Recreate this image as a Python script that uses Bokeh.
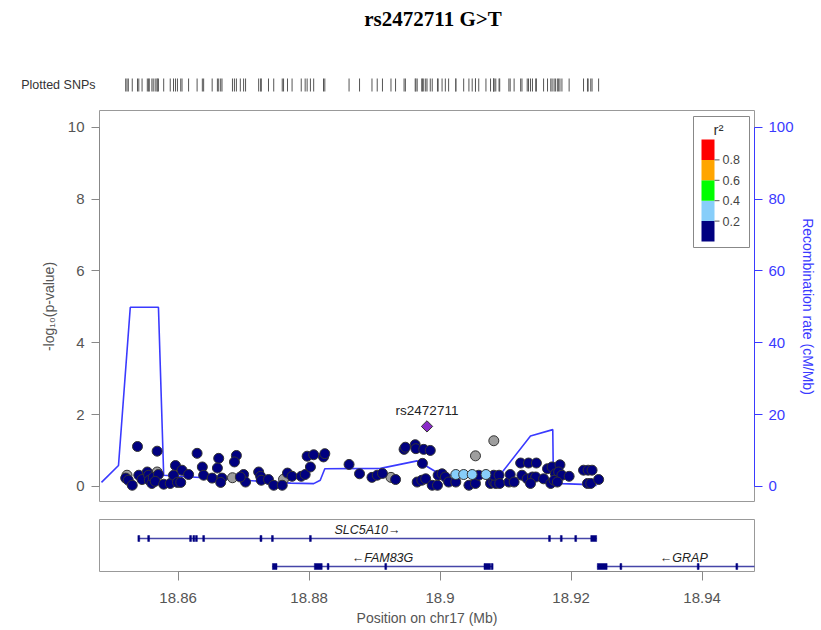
import math
from bokeh.plotting import figure
from bokeh.models import Range1d, LinearAxis, FixedTicker
from bokeh.layouts import column
from bokeh.embed import file_html
from bokeh.resources import INLINE
from bokeh.core.properties import value

# ---------------- data ----------------
TITLE = "rs2472711 G>T"
X_START, X_END = 18.848, 18.948
Y_START, Y_END = -0.45, 10.47

ref_name = "rs2472711"
ref_pos = 18.8980
ref_logp = 1.67

navy_pos = [18.8520, 18.8524, 18.8530, 18.8538, 18.8540, 18.8545, 18.8553, 18.8555, 18.8556, 18.8560,
            18.8562, 18.8570, 18.8565, 18.8568, 18.8578, 18.8588, 18.8596, 18.8593, 18.8599, 18.8604,
            18.8606, 18.8616, 18.8629, 18.8637, 18.8639, 18.8652, 18.8662, 18.8660, 18.8667, 18.8665,
            18.8689, 18.8686, 18.8700, 18.8703, 18.8695, 18.8723, 18.8726, 18.8727, 18.8738, 18.8746,
            18.8759, 18.8767, 18.8774, 18.8788, 18.8794, 18.8802, 18.8797, 18.8807, 18.8822, 18.8824,
            18.8861, 18.8877, 18.8896, 18.8904, 18.8912, 18.8932, 18.8945, 18.8947, 18.8962, 18.8963,
            18.8975, 18.8985, 18.8973, 18.8965, 18.8972, 18.8978, 18.8988, 18.8996, 18.8997, 18.9003,
            18.9008, 18.9013, 18.9024, 18.9044, 18.9054, 18.9059, 18.9077, 18.9082, 18.9085, 18.9082,
            18.9090, 18.9091, 18.9105, 18.9107, 18.9113, 18.9123, 18.9135, 18.9147, 18.9125, 18.9133,
            18.9141, 18.9146, 18.9138, 18.9158, 18.9164, 18.9171, 18.9183, 18.9176, 18.9181, 18.9186,
            18.9169, 18.9174, 18.9179, 18.9197, 18.9219, 18.9226, 18.9232, 18.9225, 18.9230, 18.9242]
navy_logp = [0.23, 0.17, 0.03, 1.11, 0.31, 0.19, 0.40, 0.31, 0.17, 0.08,
             0.25, 0.33, 0.14, 0.98, 0.06, 0.08, 0.58, 0.31, 0.11, 0.11,
             0.45, 0.33, 0.92, 0.54, 0.31, 0.23, 0.78, 0.51, 0.23, 0.11,
             0.86, 0.68, 0.33, 0.12, 0.26, 0.40, 0.28, 0.17, 0.19, 0.03,
             0.03, 0.37, 0.28, 0.28, 0.33, 0.54, 0.84, 0.88, 0.82, 0.91,
             0.61, 0.35, 0.25, 0.31, 0.36, 0.19, 1.03, 1.09, 1.16, 1.05,
             1.03, 1.00, 0.64, 0.12, 0.17, 0.21, 0.03, 0.03, 0.31, 0.35,
             0.26, 0.12, 0.12, 0.03, 0.08, 0.31, 0.08, 0.12, 0.08, 0.31,
             0.31, 0.08, 0.12, 0.33, 0.12, 0.65, 0.65, 0.65, 0.31, 0.21,
             0.26, 0.26, 0.08, 0.21, 0.49, 0.54, 0.60, 0.35, 0.40, 0.31,
             0.08, 0.17, 0.12, 0.28, 0.45, 0.45, 0.45, 0.08, 0.08, 0.19]

lblue_pos = [18.9024, 18.9036, 18.9049, 18.9070]
lblue_logp = [0.33, 0.33, 0.33, 0.33]

gray_pos = [18.8522, 18.8568, 18.8683, 18.8761, 18.8925, 18.9054, 18.9082]
gray_logp = [0.31, 0.40, 0.24, 0.20, 0.25, 0.85, 1.27]

recomb_pos = [18.8483, 18.8509, 18.8527, 18.8570, 18.8578, 18.8772, 18.8807, 18.8817, 18.8824,
              18.8909, 18.8965, 18.8973, 18.8996, 18.9008, 18.9095, 18.9138, 18.9172, 18.9173,
              18.9186, 18.9217, 18.9239]
recomb_rate = [1.1, 5.8, 49.9, 49.9, 3.1, 0.9, 0.75, 1.7, 4.9,
               5.0, 7.1, 6.3, 3.8, 3.1, 4.0, 14.0, 15.8, 1.25,
               0.75, 0.56, 0.28]

gene_names = ["SLC5A10", "FAM83G", "GRAP"]
gene_strand = ["+", "-", "-"]
gene_start = [18.8539, 18.8744, 18.9240]
gene_end = [18.9239, 18.9080, 18.9504]
gene_row = [0, 1, 1]
exon_gene = [0] * 13 + [1] * 6 + [2] * 4
exon_start = [18.8539, 18.8554, 18.8618, 18.8623, 18.8627, 18.8638, 18.8725, 18.8743, 18.8801,
              18.9166, 18.9184, 18.9206, 18.9230,
              18.8744, 18.8808, 18.8828, 18.8916, 18.9067, 18.9079,
              18.9240, 18.9275, 18.9393, 18.9452]
exon_end = [18.8541, 18.8556, 18.8620, 18.8625, 18.8629, 18.8640, 18.8728, 18.8745, 18.8803,
            18.9168, 18.9186, 18.9208, 18.9239,
            18.8751, 18.8820, 18.8830, 18.8918, 18.9077, 18.9080,
            18.9255, 18.9277, 18.9395, 18.9454]

y_ticks = [0, 2, 4, 6, 8, 10]
recomb_ticks = [0, 20, 40, 60, 80, 100]
x_ticks = [18.86, 18.88, 18.90, 18.92, 18.94]
x_tick_labels = ["18.86", "18.88", "18.9", "18.92", "18.94"]
r2_bins = [0.0, 0.2, 0.4, 0.6, 0.8, 1.0]
r2_ticks = [0.2, 0.4, 0.6, 0.8]
r2_tick_labels = ["0.2", "0.4", "0.6", "0.8"]
r2_colors = ["#000080", "#87CEFA", "#00FF00", "#FFA500", "#FF0000"]

# ---------------- styling ----------------
FONT = "Liberation Sans"
W = 821
LEFT, RIGHT = 99, 67
FRAME_W = W - LEFT - RIGHT
MAIN_TOP, MAIN_H = 10, 392
RECOMB_COL = "#3A3AFF"
AXIS_COL = "#888888"
LABEL_COL = "#555555"

x_range = Range1d(X_START, X_END)
all_pos = navy_pos + lblue_pos + gray_pos + [ref_pos]


def fx(px):
    """frame pixel offset (from frame left) -> x data"""
    return X_START + px / FRAME_W * (X_END - X_START)


def fy(py):
    """frame pixel offset (from frame top) -> y data of main panel"""
    return Y_END - py / MAIN_H * (Y_END - Y_START)


# ---- top: title + rug ----
p1 = figure(width=W, height=100, x_range=x_range, y_range=Range1d(100, 0),
            x_axis_location=None, y_axis_location="left",
            output_backend="svg", toolbar_location=None,
            min_border_left=LEFT, min_border_right=RIGHT,
            min_border_top=0, min_border_bottom=0)
p1.grid.visible = False
p1.outline_line_color = None
p1.yaxis.ticker = FixedTicker(ticks=[84.5])
p1.yaxis.major_label_overrides = {84.5: "Plotted SNPs"}
p1.yaxis.axis_line_color = None
p1.yaxis.major_tick_line_color = None
p1.yaxis.major_tick_out = 0
p1.yaxis.major_tick_in = 0
p1.yaxis.minor_tick_line_color = None
p1.yaxis.major_label_standoff = 4
p1.yaxis.major_label_text_font = FONT
p1.yaxis.major_label_text_font_size = "12.5px"
p1.yaxis.major_label_text_color = "#333333"
p1.segment(x0=all_pos, y0=78, x1=all_pos, y1=91, line_color="#555555", line_width=1)
p1.text(x=[(X_START + X_END) / 2], y=[18], text=[TITLE], x_offset=6,
        text_font=value("Liberation Serif"), text_font_style="bold",
        text_font_size="21px", text_align="center", text_baseline="middle",
        text_color="black")

# ---- main association panel ----
p2 = figure(width=W, height=MAIN_TOP + MAIN_H, x_range=x_range,
            y_range=Range1d(Y_START, Y_END),
            x_axis_location=None, y_axis_location="left",
            output_backend="svg", toolbar_location=None,
            min_border_left=LEFT, min_border_right=RIGHT,
            min_border_top=MAIN_TOP, min_border_bottom=0)
p2.grid.visible = False
p2.outline_line_color = "#999999"
p2.extra_y_ranges = {"recomb": Range1d(Y_START * 10, Y_END * 10)}

ya = p2.yaxis[0]
ya.ticker = FixedTicker(ticks=y_ticks)
ya.bounds = (0, 10)
ya.axis_line_color = AXIS_COL
ya.major_tick_line_color = AXIS_COL
ya.major_tick_out = 8
ya.major_tick_in = 0
ya.minor_tick_line_color = None
ya.major_label_standoff = 7
ya.major_label_text_font = FONT
ya.major_label_text_font_size = "15px"
ya.major_label_text_color = LABEL_COL
ya.axis_label = "-log₁₀(p-value)"
ya.axis_label_text_font = FONT
ya.axis_label_text_font_size = "14px"
ya.axis_label_text_font_style = "normal"
ya.axis_label_text_color = LABEL_COL
ya.axis_label_standoff = 8

ra = LinearAxis(y_range_name="recomb", ticker=FixedTicker(ticks=recomb_ticks),
                bounds=(0, 100))
ra.axis_line_color = RECOMB_COL
ra.major_tick_line_color = RECOMB_COL
ra.major_tick_out = 8
ra.major_tick_in = 0
ra.minor_tick_line_color = None
ra.major_label_standoff = 6
ra.major_label_text_font = FONT
ra.major_label_text_font_size = "15px"
ra.major_label_text_color = RECOMB_COL
ra.axis_label = "Recombination rate (cM/Mb)"
ra.axis_label_text_font = FONT
ra.axis_label_text_font_size = "14px"
ra.axis_label_text_font_style = "normal"
ra.axis_label_text_color = RECOMB_COL
ra.axis_label_standoff = 3
p2.add_layout(ra, "right")

p2.line(x=recomb_pos, y=recomb_rate, y_range_name="recomb",
        line_color=RECOMB_COL, line_width=1.6)

PT = 10
p2.scatter(x=gray_pos, y=gray_logp, size=PT, fill_color="#9E9E9E",
           line_color="#333333", line_width=1)
p2.scatter(x=navy_pos, y=navy_logp, size=PT, fill_color=r2_colors[0],
           line_color="#333333", line_width=1)
p2.scatter(x=lblue_pos, y=lblue_logp, size=PT, fill_color=r2_colors[1],
           line_color="#333333", line_width=1)
p2.scatter(x=[ref_pos], y=[ref_logp], marker="square", angle=math.pi / 4, size=8,
           fill_color="#8A2BC8", line_color="#333333", line_width=1)
p2.text(x=[ref_pos], y=[ref_logp], text=[ref_name], y_offset=-8,
        text_font=value(FONT), text_font_size="13.5px", text_align="center",
        text_baseline="bottom", text_color="#222222")

# ---- r^2 legend (layout in frame pixels) ----
LG_L, LG_R, LG_T, LG_B = 594, 650, 6, 137      # legend box
BAR_L, BAR_R, BAR_TOP, BAR_H = 602, 615, 29, 102
p2.quad(left=[fx(LG_L)], right=[fx(LG_R)], top=[fy(LG_T)], bottom=[fy(LG_B)],
        fill_color="white", line_color="#888888", line_width=1)
p2.quad(left=[fx(BAR_L)] * 5, right=[fx(BAR_R)] * 5,
        bottom=[fy(BAR_TOP + BAR_H - b * BAR_H) for b in r2_bins[:-1]],
        top=[fy(BAR_TOP + BAR_H - b * BAR_H) for b in r2_bins[1:]],
        fill_color=r2_colors, line_color=None)
tick_y = [fy(BAR_TOP + BAR_H - t * BAR_H) for t in r2_ticks]
p2.segment(x0=[fx(BAR_R)] * 4, x1=[fx(BAR_R + 5)] * 4, y0=tick_y, y1=tick_y,
           line_color="#555555", line_width=1)
p2.text(x=[fx(BAR_R + 8)] * 4, y=tick_y, text=r2_tick_labels,
        text_font=value(FONT), text_font_size="12.5px", text_align="left",
        text_baseline="middle", text_color="#444444")
p2.text(x=[fx(619)], y=[fy(19)], text=["r²"],
        text_font=value(FONT), text_font_size="15px", text_align="center",
        text_baseline="middle", text_color="#333333")

# ---- gene panel ----
p3 = figure(width=W, height=128, x_range=x_range, y_range=Range1d(52, 0),
            x_axis_location="below", y_axis_location=None,
            output_backend="svg", toolbar_location=None,
            min_border_left=LEFT, min_border_right=RIGHT,
            min_border_top=17, min_border_bottom=59)
p3.grid.visible = False
p3.outline_line_color = "#999999"
row_y = [19, 47]
GENE_COL = "#000080"
g_y = [row_y[r] for r in gene_row]
p3.segment(x0=gene_start, y0=g_y, x1=gene_end, y1=g_y,
           line_color="#4646A8", line_width=1.5)
ex_x = [(s + e) / 2 for s, e in zip(exon_start, exon_end)]
ex_w = [max(e - s, 0.00028) for s, e in zip(exon_start, exon_end)]
ex_y = [row_y[gene_row[g]] for g in exon_gene]
p3.rect(x=ex_x, y=ex_y, width=ex_w, height=6, fill_color=GENE_COL,
        line_color=GENE_COL, line_width=0.5)
g_lab = [(n + "→") if s == "+" else ("←" + n) for n, s in zip(gene_names, gene_strand)]
g_cx = [(s + e) / 2 for s, e in zip(gene_start, gene_end)]
p3.text(x=g_cx, y=[y - 8.5 for y in g_y], text=g_lab, text_font=value(FONT),
        text_font_style="italic", text_font_size="12.5px", text_align="center",
        text_baseline="middle", text_color="#222222")

xa = p3.xaxis[0]
xa.ticker = FixedTicker(ticks=x_ticks)
xa.major_label_overrides = {t: l for t, l in zip(x_ticks, x_tick_labels)}
xa.bounds = (x_ticks[0], x_ticks[-1])
xa.axis_line_color = AXIS_COL
xa.major_tick_line_color = AXIS_COL
xa.major_tick_out = 9
xa.major_tick_in = 0
xa.minor_tick_line_color = None
xa.major_label_standoff = 12
xa.major_label_text_font = FONT
xa.major_label_text_font_size = "15px"
xa.major_label_text_color = LABEL_COL
xa.axis_label = "Position on chr17 (Mb)"
xa.axis_label_text_font = FONT
xa.axis_label_text_font_size = "14px"
xa.axis_label_text_font_style = "normal"
xa.axis_label_text_color = LABEL_COL
xa.axis_label_standoff = 4

layout = column(p1, p2, p3, spacing=0)
open("out.html", "w").write(file_html(layout, INLINE))
